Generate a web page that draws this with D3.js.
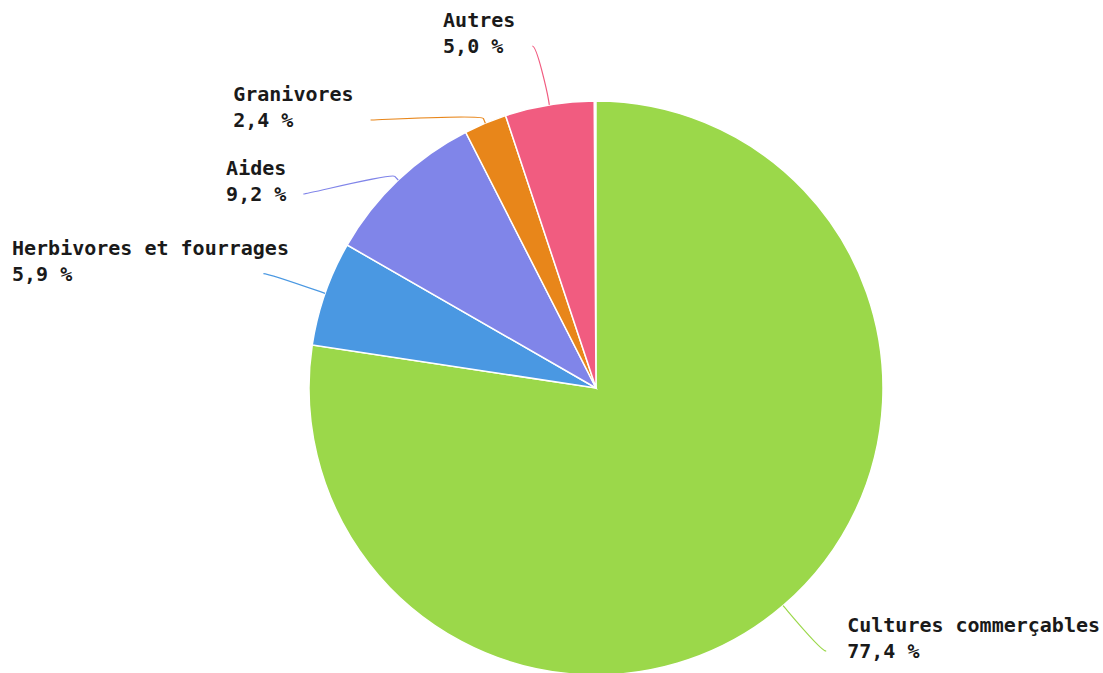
<!DOCTYPE html>
<html>
<head>
<meta charset="utf-8">
<script src="https://cdn.jsdelivr.net/npm/d3@7"></script>
<style>
  body { margin: 0; background: #fff; }
  .label { font-family: "DejaVu Sans Mono", monospace; font-weight: bold; font-size: 20px; fill: #1a1a1a; }
</style>
</head>
<body>
<div id="chart"></div>
<script>
// data
let categories = ["Cultures commerçables", "Herbivores et fourrages", "Aides", "Granivores", "Autres"];
let values = [77.4, 5.9, 9.2, 2.4, 5.0];
let colors = ["#9bd84a", "#4a98e2", "#8085e9", "#e8861a", "#f15c80"];

let width = 1103, height = 673;
let cx = 596, cy = 388, radius = 287;
let labelRadius = radius + 60,
    lineGap = 26,
    labelMin = 46;

let svg = d3.select("#chart")
    .append("svg")
    .attr("width", width)
    .attr("height", height);

let g = svg.append("g")
    .attr("transform", "translate(" + cx + "," + cy + ")");

let data = categories.map((c, i) => ({name: c, value: values[i], color: colors[i]}));

let pie = d3.pie()
    .sort(null)
    .value(d => d.value)
    .startAngle(0)
    .endAngle(2 * Math.PI * d3.sum(values) / 100);

let arcs = pie(data);

let arc = d3.arc().innerRadius(0).outerRadius(radius);

g.selectAll("path.slice")
    .data(arcs)
    .enter()
    .append("path")
    .attr("class", "slice")
    .attr("d", arc)
    .attr("fill", d => d.data.color)
    .attr("stroke", "#fff")
    .attr("stroke-width", 1.5);

// label positions, like highcharts: start on a bigger circle then push apart
arcs.forEach(d => {
    d.mid = (d.startAngle + d.endAngle) / 2;
    d.left = Math.sin(d.mid) < 0;
    d.ly = -Math.cos(d.mid) * labelRadius;
});

let leftSide = arcs.filter(d => d.left).sort((a, b) => a.ly - b.ly);
let prev = null;
leftSide.forEach(d => {
    let minY = prev === null ? labelMin - cy : prev.ly + 74;
    d.ly = Math.max(d.ly, minY);
    prev = d;
});

arcs.forEach(d => {
    let dx = Math.sqrt(Math.max(0, labelRadius * labelRadius - d.ly * d.ly));
    d.lx = d.left ? -dx - 5 : dx + 4;
});

let line = g.append("g");
arcs.forEach(d => {
    let s = Math.sin(d.mid), c = -Math.cos(d.mid);
    let edge = [s * radius, c * radius];
    let brk = [s * (radius + 5), c * (radius + 5)];
    let p = d3.path();
    p.moveTo(d.lx, d.ly);
    p.bezierCurveTo(d.lx + (d.left ? 5 : -5), d.ly, 2 * brk[0] - edge[0], 2 * brk[1] - edge[1], brk[0], brk[1]);
    p.lineTo(edge[0], edge[1]);
    line.append("path")
        .attr("d", p.toString())
        .attr("fill", "none")
        .attr("stroke", d.data.color)
        .attr("stroke-width", 1.2);
});

let labels = g.append("g");
arcs.forEach(d => {
    let t = labels.append("text")
        .attr("class", "label")
        .attr("y", d.ly + 7 - lineGap);
    t.append("tspan").attr("x", 0).text(d.data.name);
    t.append("tspan")
        .attr("x", 0)
        .attr("dy", lineGap)
        .text(d3.format(".1f")(d.data.value).replace(".", ",") + " %");
    let w = t.node().getBBox().width;
    let x;
    if (d.left) {
        x = d.lx - 17 - w;
        x = Math.max(x, 12 - cx);
    } else {
        x = d.lx + 21;
    }
    t.selectAll("tspan").attr("x", x);
});
</script>
</body>
</html>
